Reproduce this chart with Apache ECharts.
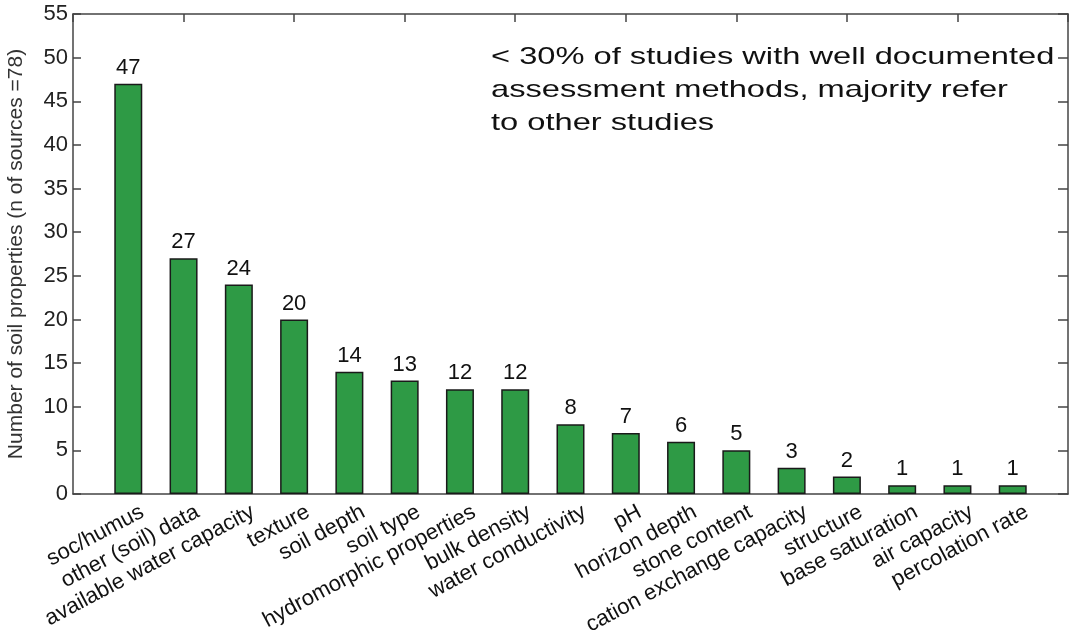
<!DOCTYPE html>
<html>
<head>
<meta charset="utf-8">
<script src="https://cdn.jsdelivr.net/npm/echarts@6/dist/echarts.min.js"></script>
<style>
  html, body { margin: 0; padding: 0; background: #fff; }
  #chart { width: 1077px; height: 634px; }
</style>
</head>
<body>
<div id="chart"></div>
<script>
// soil properties, counted over 78 sources
var categories = [
  'soc/humus', 'other (soil) data', 'available water capacity', 'texture',
  'soil depth', 'soil type', 'hydromorphic properties', 'bulk density',
  'water conductivity', 'pH', 'horizon depth', 'stone content',
  'cation exchange capacity', 'structure', 'base saturation',
  'air capacity', 'percolation rate'
]
var counts = [47, 27, 24, 20, 14, 13, 12, 12, 8, 7, 6, 5, 3, 2, 1, 1, 1]
var yTicks = [0, 5, 10, 15, 20, 25, 30, 35, 40, 45, 50, 55]
var note = '< 30% of studies with well documented\nassessment methods, majority refer\nto other studies'

var font = '"Liberation Sans", Arial, Helvetica, sans-serif'
var axisColor = '#444'

// bars sit at x = 1..n on a 0..n+1 axis, like the original plot
var barData = counts.map(function (v, i) { return [i + 1, v] })
var xMax = categories.length + 1
var yMin = yTicks[0]
var yMax = yTicks[yTicks.length - 1]
var yStep = yTicks[1] - yTicks[0]

var line = { color: axisColor, width: 1.5 }

var chart = echarts.init(document.getElementById('chart'))
var option = {
  animation: false,
  textStyle: { fontFamily: font },
  grid: [
    { left: 73, right: 9, top: 14, bottom: 140, outerBoundsMode: 'none' },
    // same box nudged right, only carries the category labels
    { left: 82, right: 0, top: 14, bottom: 140, outerBoundsMode: 'none' }
  ],
  xAxis: [
    {
      type: 'value',
      gridIndex: 0,
      position: 'bottom',
      min: 0,
      max: xMax,
      interval: 1,
      splitLine: { show: false },
      axisLine: { onZero: false, lineStyle: line },
      axisTick: { show: false },
      axisLabel: { show: false }
    },
    {
      type: 'value',
      gridIndex: 0,
      position: 'top',
      min: 0,
      max: xMax,
      interval: 2,
      splitLine: { show: false },
      axisLine: { onZero: false, lineStyle: line },
      axisTick: { inside: true, length: 8, lineStyle: line },
      axisLabel: { show: false }
    },
    {
      type: 'value',
      gridIndex: 1,
      position: 'bottom',
      min: 0,
      max: xMax,
      interval: 1,
      splitLine: { show: false },
      axisLine: { show: false, onZero: false },
      axisTick: { show: false },
      axisLabel: {
        rotate: 28,
        margin: 7,
        fontSize: 22,
        color: '#111',
        fontFamily: font,
        align: 'right',
        verticalAlign: 'top',
        showMinLabel: true,
        showMaxLabel: true,
        formatter: function (v) { return categories[v - 1] || '' }
      }
    }
  ],
  yAxis: [
    {
      type: 'value',
      gridIndex: 0,
      position: 'left',
      min: yMin,
      max: yMax,
      interval: yStep,
      name: 'Number of soil properties (n of sources =78)',
      nameLocation: 'middle',
      nameGap: 46,
      nameTextStyle: { fontSize: 21, color: '#333', fontFamily: font },
      splitLine: { show: false },
      axisLine: { show: true, onZero: false, lineStyle: line },
      axisTick: { show: true, inside: true, length: 8, lineStyle: line },
      axisLabel: { fontSize: 22, color: '#222', margin: 5, fontFamily: font }
    },
    {
      type: 'value',
      gridIndex: 0,
      position: 'right',
      min: yMin,
      max: yMax,
      interval: yStep,
      splitLine: { show: false },
      axisLine: { show: true, onZero: false, lineStyle: line },
      axisTick: { show: true, inside: true, length: 10, lineStyle: line },
      axisLabel: { show: false }
    },
    {
      type: 'value',
      gridIndex: 1,
      min: yMin,
      max: yMax,
      show: false
    }
  ],
  series: [
    {
      type: 'bar',
      xAxisIndex: 0,
      yAxisIndex: 0,
      data: barData,
      barWidth: 28,
      itemStyle: { color: '#2e9a45', borderColor: '#1a1a1a', borderWidth: 1.5 },
      label: {
        show: true,
        position: 'top',
        distance: 5,
        fontSize: 22,
        color: '#111',
        fontFamily: font,
        formatter: function (p) { return p.value[1] }
      }
    }
  ],
  graphic: [
    {
      type: 'text',
      x: 491,
      y: 41,
      scaleX: 1.36,
      style: {
        text: note,
        fontSize: 24,
        lineHeight: 33,
        fill: '#111',
        fontFamily: font
      }
    }
  ]
}
chart.setOption(option)
</script>
</body>
</html>
